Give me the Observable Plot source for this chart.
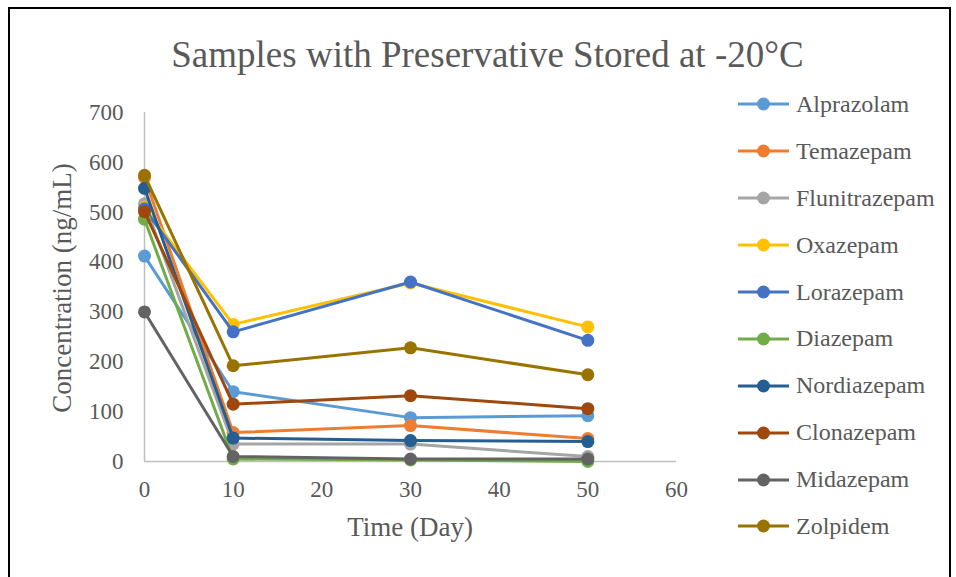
<!DOCTYPE html>
<html>
<head>
<meta charset="utf-8">
<script src="https://cdn.jsdelivr.net/npm/d3@7"></script>
<script src="https://cdn.jsdelivr.net/npm/@observablehq/plot@0.6"></script>
<style>
  html, body { margin: 0; padding: 0; background: #fff; }
  #wrap { position: relative; width: 956px; height: 577px; overflow: hidden; font-family: "Liberation Serif", "Times New Roman", serif; color: #595959; }
  #frame { position: absolute; left: 8px; top: 7px; width: 943px; height: 600px; border: 2px solid #000; box-sizing: border-box; }
  #title { position: absolute; left: 0; width: 975px; top: 33px; text-align: center; font-size: 37px; line-height: 44px; }
  #ylab { position: absolute; left: 62px; top: 288px; transform: translate(-50%, -50%) rotate(-90deg); font-size: 27px; white-space: nowrap; }
  #xlab { position: absolute; left: 410px; top: 527px; transform: translate(-50%, -50%); font-size: 27px; white-space: nowrap; }
  #legend { position: absolute; left: 737px; top: 81px; }
  .li { display: flex; align-items: center; height: 46.9px; font-size: 24px; }
  .li svg { margin-right: 6px; }
  #chart { position: absolute; left: 0; top: 0; }
</style>
</head>
<body>
<div id="wrap">
  <div id="frame"></div>
  <div id="chart"></div>
  <div id="title">Samples with Preservative Stored at -20°C</div>
  <div id="ylab">Concentration (ng/mL)</div>
  <div id="xlab">Time (Day)</div>
  <div id="legend"></div>
</div>
<script>
const days = [0, 10, 30, 50];
const names = ["Alprazolam","Temazepam","Flunitrazepam","Oxazepam","Lorazepam","Diazepam","Nordiazepam","Clonazepam","Midazepam","Zolpidem"];
const colors = ["#5B9BD5","#ED7D31","#A5A5A5","#FFC000","#4472C4","#70AD47","#255E91","#9E480E","#636363","#997300"];
const alprazolam    = [412, 140, 88, 92];
const temazepam     = [570, 58, 72, 46];
const flunitrazepam = [517, 35, 35, 10];
const oxazepam      = [510, 275, 358, 270];
const lorazepam     = [507, 260, 360, 243];
const diazepam      = [486, 5, 3, 0];
const nordiazepam   = [548, 47, 42, 40];
const clonazepam    = [501, 115, 132, 106];
const midazepam     = [300, 10, 5, 5];
const zolpidem      = [574, 192, 228, 174];
const yTicks = [0,100,200,300,400,500,600,700];
const xTicks = [0,10,20,30,40,50,60];

const seriesValues = [alprazolam, temazepam, flunitrazepam, oxazepam, lorazepam, diazepam, nordiazepam, clonazepam, midazepam, zolpidem];

const marks = [
  Plot.ruleY([0], {stroke: "#BFBFBF", strokeWidth: 1.5}),
  Plot.ruleX([0], {stroke: "#BFBFBF", strokeWidth: 1.5}),
  Plot.axisY({ticks: yTicks, tickSize: 0, tickPadding: 21, fontSize: 23, label: null}),
  Plot.axisX({ticks: xTicks, tickSize: 0, tickPadding: 19, fontSize: 23, label: null})
];
names.forEach((n, i) => {
  const rows = days.map((d, j) => ({day: d, value: seriesValues[i][j]}));
  marks.push(Plot.line(rows, {x: "day", y: "value", stroke: colors[i], strokeWidth: 3}));
  marks.push(Plot.dot(rows, {x: "day", y: "value", fill: colors[i], r: 6.5, stroke: "none"}));
});

const chart = Plot.plot({
  width: 956, height: 577,
  marginLeft: 144, marginRight: 280, marginTop: 112, marginBottom: 116,
  x: {domain: [0, 60]},
  y: {domain: [0, 700]},
  style: {fontFamily: "'Liberation Serif', 'Times New Roman', serif", color: "#595959", background: "transparent", overflow: "visible"},
  marks
});
document.getElementById("chart").appendChild(chart);

const legend = document.getElementById("legend");
names.forEach((n, i) => {
  const d = document.createElement("div");
  d.className = "li";
  d.innerHTML = `<svg width="53" height="14"><line x1="1" x2="52" y1="7" y2="7" stroke="${colors[i]}" stroke-width="3"/><circle cx="26.5" cy="7" r="6.5" fill="${colors[i]}"/></svg><span>${n}</span>`;
  legend.appendChild(d);
});
</script>
</body>
</html>
